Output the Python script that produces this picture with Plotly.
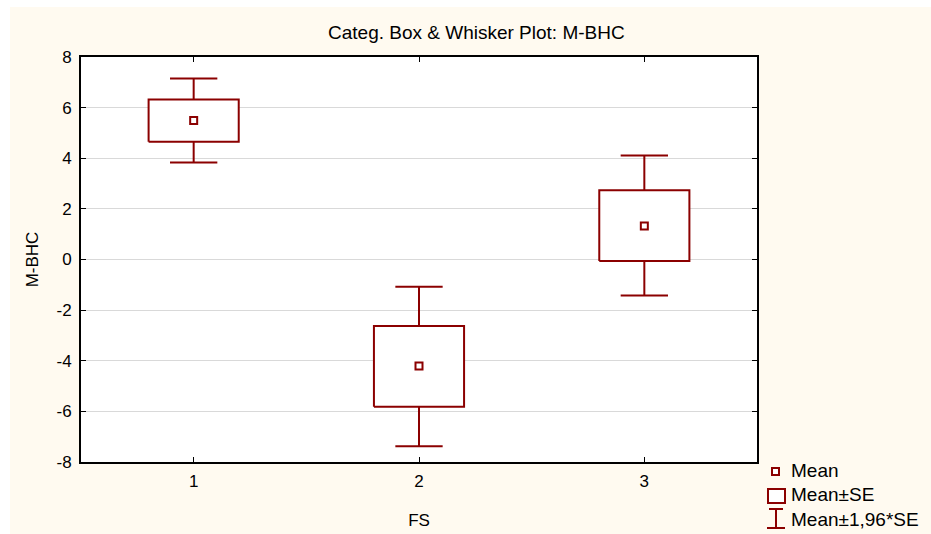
import plotly.graph_objects as go

# ---- data ----
categories = [1, 2, 3]
means = [5.49, -4.21, 1.32]
se_low = [4.65, -5.82, -0.06]
se_high = [6.32, -2.63, 2.74]
ci_low = [3.83, -7.38, -1.42]
ci_high = [7.15, -1.08, 4.11]
y_ticks = [-8, -6, -4, -2, 0, 2, 4, 6, 8]
y_tick_labels = ["-8", "-6", "-4", "-2", "0", "2", "4", "6", "8"]

COLOR = "#8b0000"
FONT = "Liberation Sans, Arial, sans-serif"
W, H = 931, 534
L, R, T, B = 81, 174, 57, 72
BOX_HALF = 0.2
CAP_HALF = 0.105

fig = go.Figure()

# whiskers (from box edge to CI end, with caps)
wx, wy = [], []
for c, sl, sh, cl, ch in zip(categories, se_low, se_high, ci_low, ci_high):
    wx += [c, c, None, c - CAP_HALF, c + CAP_HALF, None]
    wy += [sh, ch, None, ch, ch, None]
    wx += [c, c, None, c - CAP_HALF, c + CAP_HALF, None]
    wy += [sl, cl, None, cl, cl, None]
fig.add_trace(go.Scatter(x=wx, y=wy, mode="lines",
                         line=dict(color=COLOR, width=2), hoverinfo="skip",
                         showlegend=False))

# boxes (mean ± SE)
bx, by = [], []
for c, sl, sh in zip(categories, se_low, se_high):
    bx += [c - BOX_HALF, c + BOX_HALF, c + BOX_HALF, c - BOX_HALF, c - BOX_HALF, None]
    by += [sl, sl, sh, sh, sl, None]
fig.add_trace(go.Scatter(x=bx, y=by, mode="lines", fill="toself",
                         fillcolor="white", line=dict(color=COLOR, width=2),
                         hoverinfo="skip", showlegend=False))

# means
fig.add_trace(go.Scatter(x=categories, y=means, mode="markers",
                         marker=dict(symbol="square", size=7, color="white",
                                     line=dict(color=COLOR, width=2)),
                         showlegend=False))

pw, ph = W - L - R, H - T - B


def px(x):
    return (x - L) / pw


def py(y):
    return (H - B - y) / ph


shapes = []
# cream background
shapes.append(dict(type="rect", xref="paper", yref="paper", layer="below",
                   x0=px(10), x1=px(W + 5), y0=py(H + 5), y1=py(7),
                   fillcolor="#fffaf0", line=dict(width=0)))
shapes.append(dict(type="rect", xref="paper", yref="paper", layer="below",
                   x0=0, x1=1, y0=0, y1=1,
                   fillcolor="white", line=dict(width=0)))
# legend icons
shapes.append(dict(type="rect", xref="paper", yref="paper",
                   x0=px(772), x1=px(779), y0=py(475), y1=py(468),
                   fillcolor="white", line=dict(color=COLOR, width=2)))
shapes.append(dict(type="rect", xref="paper", yref="paper",
                   x0=px(768), x1=px(785), y0=py(503), y1=py(489),
                   fillcolor="white", line=dict(color=COLOR, width=2)))
shapes.append(dict(type="line", xref="paper", yref="paper",
                   x0=px(769), x1=px(783), y0=py(509), y1=py(509),
                   line=dict(color=COLOR, width=2)))
shapes.append(dict(type="line", xref="paper", yref="paper",
                   x0=px(776), x1=px(776), y0=py(509), y1=py(528),
                   line=dict(color=COLOR, width=2)))
shapes.append(dict(type="line", xref="paper", yref="paper",
                   x0=px(767), x1=px(785), y0=py(528), y1=py(528),
                   line=dict(color=COLOR, width=2)))

LEG_FONT = dict(size=19, color="black", family=FONT)
annotations = [
    dict(text="Categ. Box & Whisker Plot: M-BHC", x=px(476), y=py(33),
         xref="paper", yref="paper", showarrow=False, yanchor="middle",
         font=dict(size=19, color="black", family=FONT)),
    dict(text="Mean", x=px(789), y=py(470), xref="paper", yref="paper",
         xanchor="left", yanchor="middle", showarrow=False, font=LEG_FONT),
    dict(text="Mean±SE", x=px(789), y=py(494), xref="paper", yref="paper",
         xanchor="left", yanchor="middle", showarrow=False, font=LEG_FONT),
    dict(text="Mean±1,96*SE", x=px(789), y=py(519), xref="paper", yref="paper",
         xanchor="left", yanchor="middle", showarrow=False, font=LEG_FONT),
]

fig.update_layout(
    width=W, height=H,
    margin=dict(l=L, r=R, t=T, b=B, autoexpand=False),
    paper_bgcolor="white",
    plot_bgcolor="rgba(0,0,0,0)",
    showlegend=False,
    shapes=shapes,
    annotations=annotations,
    font=dict(family=FONT, size=17, color="black"),
)
fig.update_xaxes(range=[0.5, 3.5], tickvals=categories,
                 ticktext=[str(c) for c in categories],
                 showgrid=False, zeroline=False, automargin=False,
                 showline=True, linecolor="black", linewidth=2, mirror="ticks",
                 ticks="inside", ticklen=5, tickcolor="black", tickwidth=1,
                 title=dict(text="FS", standoff=24, font=dict(size=17)),
                 tickfont=dict(size=17), ticklabelstandoff=3)
fig.update_yaxes(range=[-8, 8], tickvals=y_ticks, ticktext=y_tick_labels,
                 showgrid=True, gridcolor="#d9d9d9", gridwidth=1, zeroline=False,
                 automargin=False,
                 showline=True, linecolor="black", linewidth=2, mirror="ticks",
                 ticks="inside", ticklen=5, tickcolor="black", tickwidth=1,
                 title=dict(text="M-BHC", standoff=14, font=dict(size=17)),
                 tickfont=dict(size=17), ticklabelstandoff=4)

fig.write_html("out.html", config={"displayModeBar": False})

# remove the browser's default page margin so the figure sits at (0, 0)
with open("out.html", "r", encoding="utf-8") as f:
    html = f.read()
html = html.replace("<head>", "<head><style>html,body{margin:0;padding:0;overflow:hidden;}</style>", 1)
with open("out.html", "w", encoding="utf-8") as f:
    f.write(html)
